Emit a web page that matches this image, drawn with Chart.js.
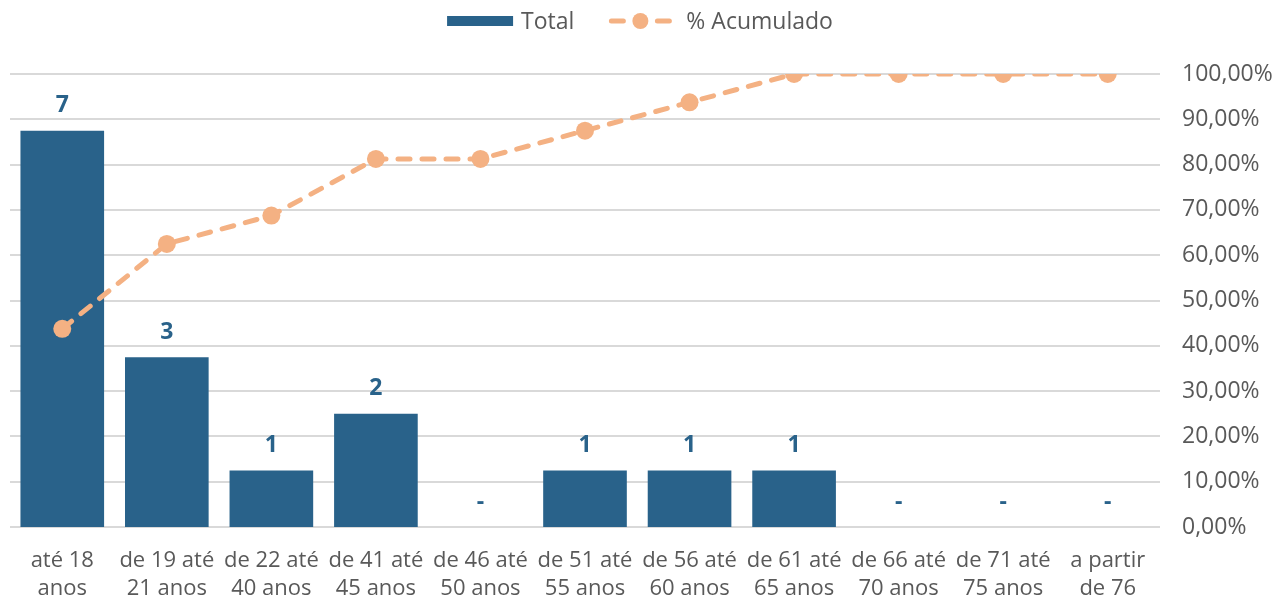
<!DOCTYPE html>
<html>
<head>
<meta charset="utf-8">
<script src="https://cdn.jsdelivr.net/npm/chart.js@4"></script>
<style>
  html, body { margin: 0; padding: 0; background: #fff; }
  #wrap { width: 1280px; height: 597px; position: relative; }
</style>
</head>
<body>
<div id="wrap"><canvas id="chart1" width="1280" height="597"></canvas></div>
<script>
const categories = [
  ["até 18", "anos"], ["de 19 até", "21 anos"], ["de 22 até", "40 anos"],
  ["de 41 até", "45 anos"], ["de 46 até", "50 anos"], ["de 51 até", "55 anos"],
  ["de 56 até", "60 anos"], ["de 61 até", "65 anos"], ["de 66 até", "70 anos"],
  ["de 71 até", "75 anos"], ["a partir", "de 76"]
];
const totals = [7, 3, 1, 2, 0, 1, 1, 1, 0, 0, 0];
const acumulado = [43.75, 62.5, 68.75, 81.25, 81.25, 87.5, 93.75, 100, 100, 100, 100];

const barColor = "#29628A";
const lineColor = "#F4B183";
const textColor = "#595959";
const fontFamily = "'Open Sans', 'Noto Sans', sans-serif";

// values above the bars ("-" for zero)
const barLabels = {
  id: "barLabels",
  afterDatasetsDraw(chart) {
    const ctx = chart.ctx;
    const meta = chart.getDatasetMeta(1);
    ctx.save();
    ctx.font = "bold 23px " + fontFamily;
    ctx.fillStyle = barColor;
    ctx.textAlign = "center";
    ctx.textBaseline = "middle";
    meta.data.forEach((bar, i) => {
      const v = totals[i];
      ctx.fillText(v === 0 ? "-" : String(v), bar.x, bar.y - 25);
    });
    ctx.restore();
  }
};

// legend on top, like the original
const topLegend = {
  id: "topLegend",
  afterDraw(chart) {
    const ctx = chart.ctx;
    ctx.save();
    ctx.font = "23px " + fontFamily;
    const t1 = "Total", t2 = "% Acumulado";
    const w1 = ctx.measureText(t1).width, w2 = ctx.measureText(t2).width;
    const total = 66 + 8 + w1 + 34 + 64 + 14 + w2;
    let x = 640 - total / 2;
    const y = 21;
    ctx.fillStyle = barColor;
    ctx.fillRect(x, y - 5, 66, 10);
    x += 74;
    ctx.fillStyle = textColor;
    ctx.textBaseline = "middle";
    ctx.fillText(t1, x, y + 1);
    x += w1 + 34;
    ctx.strokeStyle = lineColor;
    ctx.lineWidth = 5;
    ctx.lineCap = "round";
    ctx.beginPath();
    ctx.moveTo(x + 3, y);
    ctx.lineTo(x + 15, y);
    ctx.moveTo(x + 49, y);
    ctx.lineTo(x + 61, y);
    ctx.stroke();
    ctx.fillStyle = lineColor;
    ctx.beginPath();
    ctx.arc(x + 32, y, 8, 0, Math.PI * 2);
    ctx.fill();
    x += 78;
    ctx.fillStyle = textColor;
    ctx.fillText(t2, x, y + 1);
    ctx.restore();
  }
};

const canvas = document.getElementById("chart1");
new Chart(canvas, {
  data: {
    labels: categories,
    datasets: [
      {
        type: "line",
        label: "% Acumulado",
        data: acumulado,
        yAxisID: "yPct",
        borderColor: lineColor,
        backgroundColor: lineColor,
        borderWidth: 5,
        borderDash: [12, 12],
        borderCapStyle: "round",
        pointRadius: 9,
        pointBackgroundColor: lineColor,
        pointBorderWidth: 0,
        tension: 0,
        order: 0
      },
      {
        type: "bar",
        label: "Total",
        data: totals,
        yAxisID: "y",
        backgroundColor: barColor,
        categoryPercentage: 1,
        barPercentage: 0.8,
        order: 1
      }
    ]
  },
  options: {
    responsive: false,
    animation: false,
    layout: { padding: { left: 10, top: 74, right: 0, bottom: 0 } },
    plugins: { legend: { display: false }, tooltip: { enabled: false } },
    scales: {
      x: {
        grid: { display: false },
        border: { display: false },
        ticks: {
          autoSkip: false, maxRotation: 0, minRotation: 0,
          color: textColor, padding: 11,
          font: { family: fontFamily, size: 22, lineHeight: 1.3 }
        },
        afterFit(scale) { scale.height = 70; }
      },
      y: {
        display: false,
        min: 0, max: 8
      },
      yPct: {
        position: "right",
        min: 0, max: 100,
        border: { display: false },
        grid: { color: "#d9d9d9", lineWidth: 2, drawTicks: false },
        ticks: {
          stepSize: 10, padding: 22, color: textColor,
          font: { family: fontFamily, size: 23 },
          callback: (v) => v.toFixed(2).replace(".", ",") + "%"
        },
        afterFit(scale) { scale.width = 120; }
      }
    }
  },
  plugins: [barLabels, topLegend]
});
</script>
</body>
</html>
